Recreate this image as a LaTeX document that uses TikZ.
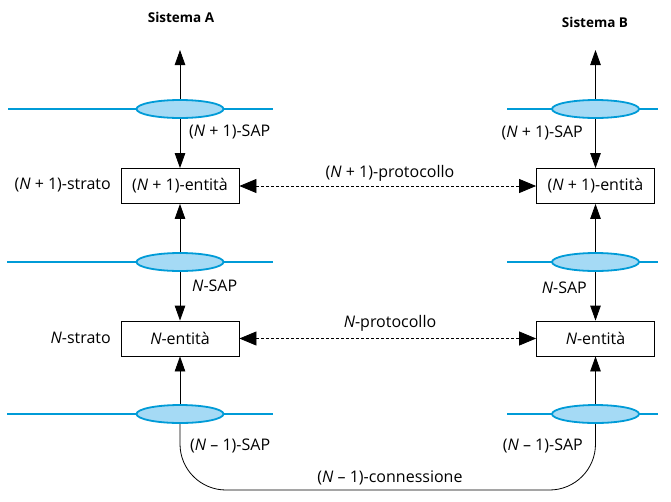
\documentclass[tikz,border=0pt]{standalone}
\usepackage{fontspec}
\setmainfont{Open Sans}
\usetikzlibrary{arrows.meta,shapes.geometric}
\definecolor{sapline}{RGB}{0,155,215}
\definecolor{sapfill}{RGB}{165,218,245}
\begin{document}
\begin{tikzpicture}[x=1pt,y=-1pt,
  font=\fontsize{16}{19}\selectfont,
  entity/.style={draw,line width=0.8pt,minimum width=118pt,minimum height=35pt,inner sep=0pt},
  sap/.style={ellipse,draw=sapline,fill=sapfill,line width=1.8pt,minimum width=87pt,minimum height=18pt,inner sep=0pt},
  sapbar/.style={draw=sapline,line width=1.8pt},
  vline/.style={line width=0.8pt,-{Triangle[length=15pt,width=10.5pt]}},
  proto/.style={line width=0.8pt,dash pattern=on 3pt off 2pt,{Triangle[length=17pt,width=14pt]}-{Triangle[length=17pt,width=14pt]}},
  lbl/.style={inner sep=0pt},
  title/.style={inner sep=0pt,font=\fontsize{13.5}{16}\selectfont\bfseries}]
\useasboundingbox (0,0) rectangle (671,501);
% titles
\node[title] (tA) at (181,17) {Sistema A};
\node[title] (tB) at (595,22) {Sistema B};
% entities
\node[entity] (boxA1) at (180,186) {(\textit{N} + 1)-entità};
\node[entity] (boxA0) at (180,338.5) {\textit{N}-entità};
\node[entity] (boxB1) at (595.5,186) {(\textit{N} + 1)-entità};
\node[entity] (boxB0) at (595.5,338.5) {\textit{N}-entità};
% coordinates
\coordinate (eA2) at (180,109);
\coordinate (eA1) at (180,262);
\coordinate (eA0) at (180,414);
\coordinate (eB2) at (595.5,109);
\coordinate (eB1) at (595.5,262);
\coordinate (eB0) at (595.5,414);
\coordinate (topA) at (180,50);
\coordinate (topB) at (595.5,50);
\coordinate (bot) at (390,490);
% vertical arrows
\draw[vline] (eA2) -- (topA);
\draw[vline] (eA2) -- (boxA1.north);
\draw[vline] (eA1) -- (boxA1.south);
\draw[vline] (eA1) -- (boxA0.north);
\draw[vline] (eA0) -- (boxA0.south);
\draw[vline] (eB2) -- (topB);
\draw[vline] (eB2) -- (boxB1.north);
\draw[vline] (eB1) -- (boxB1.south);
\draw[vline] (eB1) -- (boxB0.north);
\draw[vline] (eB0) -- (boxB0.south);
% connection
\draw[line width=0.8pt,rounded corners=46pt] (eA0) |- (bot) -| (eB0);
% SAP bars and ellipses
\coordinate (lA2) at (8,109); \coordinate (rA2) at (273,109);
\coordinate (lA1) at (7,262); \coordinate (rA1) at (273,262);
\coordinate (lA0) at (7,414); \coordinate (rA0) at (273,414);
\coordinate (lB2) at (507,109); \coordinate (rB2) at (658,109);
\coordinate (lB1) at (507,262); \coordinate (rB1) at (658,262);
\coordinate (lB0) at (507,414); \coordinate (rB0) at (658,414);
\foreach \c in {A2,A1,A0,B2,B1,B0}{
  \draw[sapbar] (l\c) -- (r\c);
  \node[sap] (s\c) at (e\c) {};
}
% protocols
\draw[proto] (boxA1.east) -- (boxB1.west);
\draw[proto] (boxA0.east) -- (boxB0.west);
% labels
\node[lbl,anchor=west] (sapA2) at (189,132) {(\textit{N} + 1)-SAP};
\node[lbl,anchor=east] (sapB2) at (583,133) {(\textit{N} + 1)-SAP};
\node[lbl,anchor=east] (strA1) at (111,185) {(\textit{N} + 1)-strato};
\node[lbl] (protA1) at (390,173) {(\textit{N} + 1)-protocollo};
\node[lbl,anchor=west] (sapA1) at (192,286) {\textit{N}-SAP};
\node[lbl,anchor=east] (sapB1) at (587,288) {\textit{N}-SAP};
\node[lbl] (protA0) at (390,323) {\textit{N}-protocollo};
\node[lbl,anchor=east] (strA0) at (111,338) {\textit{N}-strato};
\node[lbl,anchor=west] (sapA0) at (190,446) {(\textit{N} -- 1)-SAP};
\node[lbl,anchor=east] (sapB0) at (583,446) {(\textit{N} -- 1)-SAP};
\node[lbl] (conn) at (390,478) {(\textit{N} -- 1)-connessione};
\end{tikzpicture}
\end{document}
